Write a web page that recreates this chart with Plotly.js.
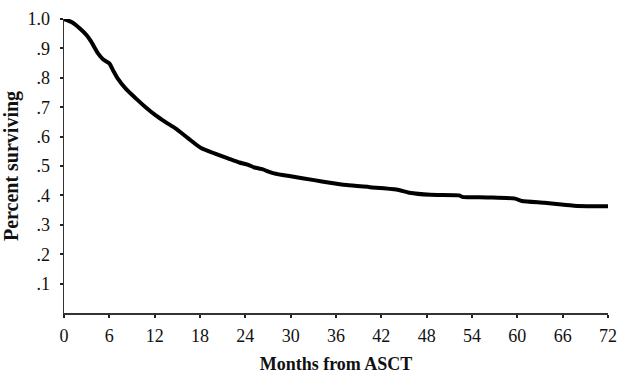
<!DOCTYPE html>
<html>
<head>
<meta charset="utf-8">
<script src="https://cdn.plot.ly/plotly-3.0.1.min.js"></script>
<style>html,body{margin:0;padding:0;background:#fff;}#chart{width:619px;height:374px;}</style>
</head>
<body>
<div id="chart"></div>
<script>
// Survival curve
var months = [0, 0.5, 1, 2.1, 3, 3.6, 4.5, 5.2, 6.0, 6.5, 7.1, 8.2, 9.5, 10.8, 12.1, 13.4, 14.75, 16.4, 18.2, 19.9, 21.7, 23.2, 24.3, 25.2, 26.1, 27.8, 30.0, 33.1, 35.2, 37.4, 40.5, 44.0, 45.7, 48.5, 52.3, 52.7, 56.0, 59.7, 60.6, 63.6, 65.5, 67.5, 70.0, 72];
var surviving = [1.0, 0.995, 0.99, 0.968, 0.945, 0.923, 0.883, 0.862, 0.849, 0.825, 0.798, 0.762, 0.730, 0.700, 0.673, 0.650, 0.628, 0.595, 0.560, 0.543, 0.526, 0.512, 0.505, 0.495, 0.490, 0.475, 0.465, 0.452, 0.443, 0.435, 0.428, 0.420, 0.409, 0.402, 0.400, 0.395, 0.393, 0.389, 0.381, 0.375, 0.370, 0.365, 0.363, 0.363];
var xTicks = [0, 6, 12, 18, 24, 30, 36, 42, 48, 54, 60, 66, 72];
var xTickText = ["0", "6", "12", "18", "24", "30", "36", "42", "48", "54", "60", "66", "72"];
var yTicks = [0.1, 0.2, 0.3, 0.4, 0.5, 0.6, 0.7, 0.8, 0.9, 1.0];
var yTickText = [".1", ".2", ".3", ".4", ".5", ".6", ".7", ".8", ".9", "1.0"];

var trace = {
  x: months, y: surviving, type: 'scatter', mode: 'lines',
  line: {color: '#000', width: 4, shape: 'spline', smoothing: 0.6},
  cliponaxis: false, hoverinfo: 'skip'
};
var fontFam = '"Liberation Serif", "Times New Roman", serif';
var layout = {
  width: 619, height: 374,
  margin: {l: 64, r: 11, t: 19, b: 61},
  paper_bgcolor: '#fff', plot_bgcolor: '#fff',
  showlegend: false,
  font: {family: fontFam, color: '#111', size: 18},
  xaxis: {
    range: [0, 72], tickvals: xTicks, ticktext: xTickText,
    showgrid: false, zeroline: false, showline: true, linecolor: '#333', linewidth: 1.5,
    ticks: 'outside', ticklen: 3, tickwidth: 2, tickcolor: '#222',
    ticklabelstandoff: 3, ticklabeloverflow: 'allow',
    tickfont: {family: fontFam, size: 18, color: '#111'},
    title: {text: '<b>Months from ASCT</b>', font: {family: fontFam, size: 18, color: '#111'}, standoff: 14}
  },
  yaxis: {
    range: [0, 1], tickvals: yTicks, ticktext: yTickText,
    showgrid: false, zeroline: false, showline: true, linecolor: '#333', linewidth: 1.5,
    ticks: 'outside', ticklen: 3, tickwidth: 2, tickcolor: '#222',
    ticklabelstandoff: 6,
    tickfont: {family: fontFam, size: 18, color: '#111'},
    title: {text: '<b>Percent surviving</b>', font: {family: fontFam, size: 20, color: '#111'}, standoff: 7}
  }
};
Plotly.newPlot('chart', [trace], layout, {staticPlot: true, displayModeBar: false});
</script>
</body>
</html>
